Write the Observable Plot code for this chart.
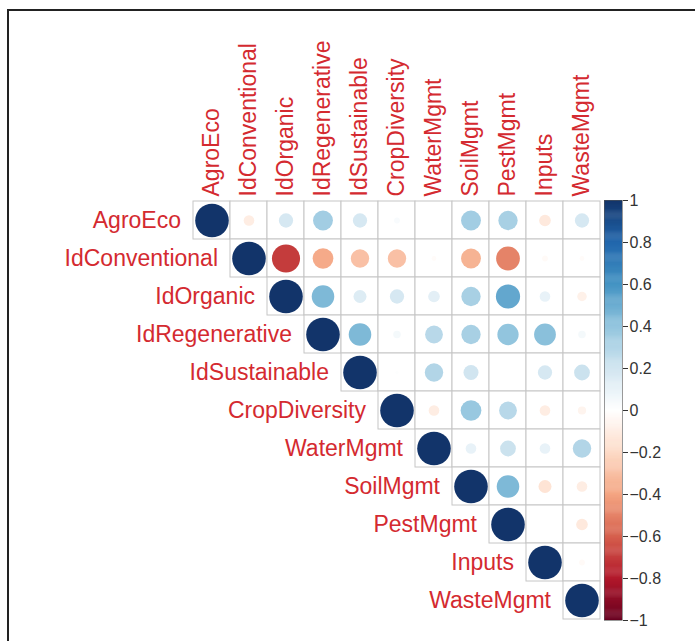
<!DOCTYPE html>
<html>
<head>
<meta charset="utf-8">
<script src="https://cdn.jsdelivr.net/npm/d3@7"></script>
<script src="https://cdn.jsdelivr.net/npm/@observablehq/plot@0.6"></script>
<style>
  html, body { margin: 0; padding: 0; background: #fff; }
  #wrap { position: relative; width: 695px; height: 641px; overflow: hidden; }
  #wrap svg { position: absolute; left: 0; top: 0; background: transparent; }
  #border { position: absolute; left: 7px; top: 9px; width: 720px; height: 720px;
            border-left: 2px solid #222; border-top: 2px solid #222; }
</style>
</head>
<body>
<div id="wrap"><div id="border"></div></div>
<script>
// Variables, in matrix order
const variables = ["AgroEco", "IdConventional", "IdOrganic", "IdRegenerative", "IdSustainable",
  "CropDiversity", "WaterMgmt", "SoilMgmt", "PestMgmt", "Inputs", "WasteMgmt"];

// Upper-triangle correlations, each row starting at its diagonal
const agroEco        = [1, -0.10, 0.18, 0.35, 0.18, 0.03, 0.00, 0.35, 0.33, -0.12, 0.18];
const idConventional = [1, -0.70, -0.38, -0.30, -0.30, -0.02, -0.35, -0.50, -0.03, -0.02];
const idOrganic      = [1, 0.45, 0.15, 0.18, 0.12, 0.33, 0.52, 0.10, -0.08];
const idRegenerative = [1, 0.45, 0.05, 0.28, 0.33, 0.40, 0.42, 0.05];
const idSustainable  = [1, 0.01, 0.30, 0.20, 0.00, 0.18, 0.22];
const cropDiversity  = [1, -0.10, 0.38, 0.28, -0.10, -0.06];
const waterMgmt      = [1, 0.10, 0.22, 0.10, 0.30];
const soilMgmt       = [1, 0.45, -0.15, -0.10];
const pestMgmt       = [1, 0.00, -0.12];
const inputs         = [1, -0.03];
const wasteMgmt      = [1];

const rows = [agroEco, idConventional, idOrganic, idRegenerative, idSustainable,
  cropDiversity, waterMgmt, soilMgmt, pestMgmt, inputs, wasteMgmt];

// Diverging palette (red = negative, blue = positive)
const colorStops = [-1, -0.8, -0.6, -0.4, -0.2, 0, 0.2, 0.4, 0.6, 0.8, 1];
const palette = ["#67001F", "#B2182B", "#D6604D", "#F4A582", "#FDDBC7", "#FFFFFF",
  "#D1E5F0", "#92C5DE", "#4393C3", "#2166AC", "#12346A"];

// Colour bar tick values
const colorbarTicks = [-1, -0.8, -0.6, -0.4, -0.2, 0, 0.2, 0.4, 0.6, 0.8, 1];

const labelRed = "#d42a30";
const font = "'Liberation Sans', Arial, Helvetica, sans-serif";

const cells = [];
rows.forEach((vals, i) => vals.forEach((v, k) => {
  cells.push({row: variables[i], col: variables[i + k], value: v});
}));

const colorScale = {type: "linear", domain: colorStops, range: palette, interpolate: "rgb"};

const matrix = Plot.plot({
  width: 695, height: 641,
  marginLeft: 192, marginRight: 95, marginTop: 200, marginBottom: 21,
  style: {fontFamily: font, background: "transparent"},
  x: {domain: variables, padding: 0, axis: null},
  y: {domain: variables, padding: 0, axis: null},
  r: {type: "sqrt", domain: [0, 1], range: [0, 16.8]},
  color: colorScale,
  marks: [
    Plot.cell(cells, {x: "col", y: "row", fill: "white", stroke: "#c6c6c6", strokeWidth: 1}),
    Plot.dot(cells, {x: "col", y: "row", r: d => Math.abs(d.value), fill: "value"}),
    // row labels, to the left of each diagonal cell
    Plot.text(variables, {x: d => d, y: d => d, text: d => d, textAnchor: "end",
      dx: -31, fill: labelRed, fontSize: 23}),
    // column labels, vertical above the top row
    Plot.text(variables, {x: d => d, y: () => variables[0], text: d => d, rotate: -90,
      textAnchor: "start", dy: -24, fill: labelRed, fontSize: 23})
  ]
});

// Colour bar: a stack of thin slices through the same colour scale
const ramp = d3.range(-1, 1, 0.005);
const colorbar = Plot.plot({
  width: 695, height: 641,
  marginLeft: 604, marginRight: 73, marginTop: 200, marginBottom: 21,
  style: {fontFamily: font, background: "transparent"},
  x: {domain: [0, 1], axis: null},
  y: {domain: [-1, 1], axis: null},
  color: colorScale,
  marks: [
    Plot.rect(ramp, {x1: 0, x2: 1, y1: d => d, y2: d => Math.min(1, d + 0.007), fill: d => d + 0.0025}),
    Plot.frame({stroke: "#555", strokeWidth: 0.6}),
    Plot.axisY(colorbarTicks, {anchor: "right", tickSize: 5, tickPadding: 2,
      fontSize: 16, color: "#333", tickFormat: d => d3.format("")(d)})
  ]
});

const wrap = document.getElementById("wrap");
wrap.appendChild(matrix);
wrap.appendChild(colorbar);
</script>
</body>
</html>
